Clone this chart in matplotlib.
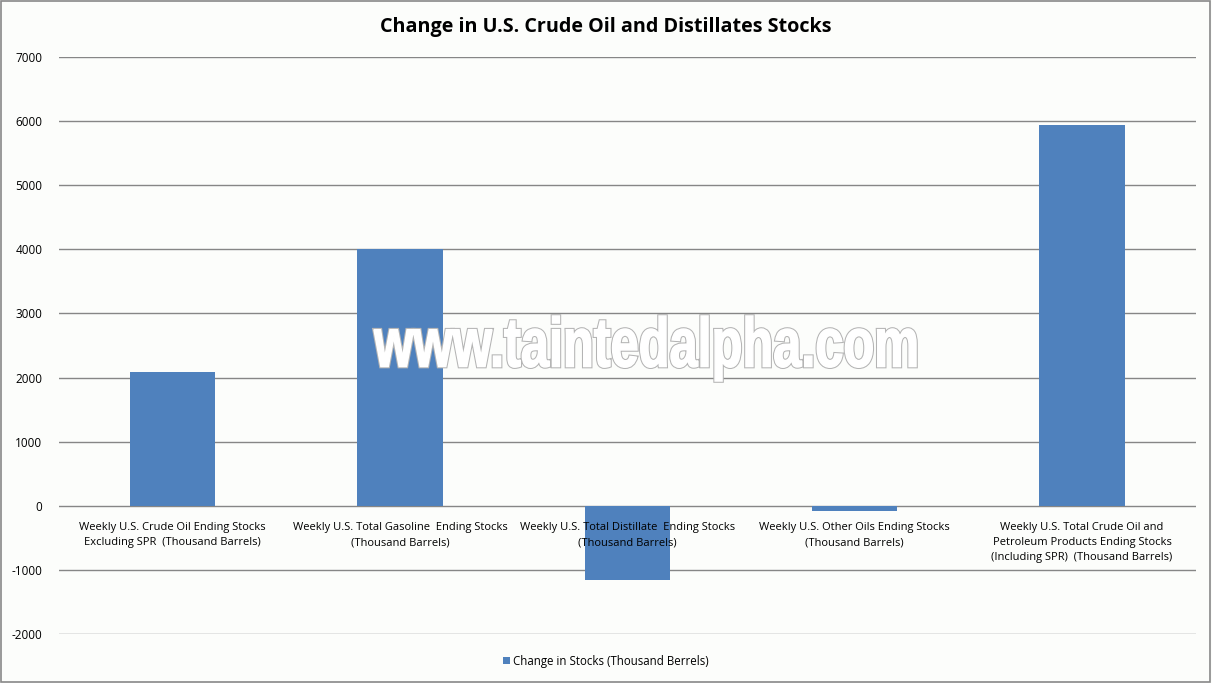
import matplotlib.pyplot as plt
from matplotlib.textpath import TextPath
from matplotlib.patches import PathPatch
from matplotlib.font_manager import FontProperties
from matplotlib.transforms import Affine2D

categories = [
    'Weekly U.S. Crude Oil Ending Stocks\nExcluding SPR  (Thousand Barrels)',
    'Weekly U.S. Total Gasoline  Ending Stocks\n(Thousand Barrels)',
    'Weekly U.S. Total Distillate  Ending Stocks\n(Thousand Barrels)',
    'Weekly U.S. Other Oils Ending Stocks\n(Thousand Barrels)',
    'Weekly U.S. Total Crude Oil and\nPetroleum Products Ending Stocks\n(Including SPR)  (Thousand Barrels)',
]
changes = [2090, 4010, -1155, -78, 5944]
series_name = 'Change in Stocks (Thousand Berrels)'
yticks = [-2000, -1000, 0, 1000, 2000, 3000, 4000, 5000, 6000, 7000]

plt.rcParams['font.family'] = ['Open Sans', 'DejaVu Sans']
bg = '#fcfdfb'
blue = '#4f81bd'

fig = plt.figure(figsize=(12.12, 6.83), dpi=100, facecolor=bg)
fig.patches.append(plt.Rectangle((0.001, 0.001), 0.997, 0.997, transform=fig.transFigure,
                                 fill=False, edgecolor='#888888', linewidth=1.2))
ax = fig.add_axes([0.0487, 0.0717, 0.9378, 0.8448])
ax.set_facecolor(bg)

x = range(len(categories))
ax.bar(x, changes, width=0.375, color=blue, zorder=2, label=series_name)

ax.set_xlim(-0.5, len(categories) - 0.5)
ax.set_ylim(-2000, 7000)
ax.set_yticks(yticks)
ax.set_yticklabels([str(v) for v in yticks], fontsize=8.5)
ax.yaxis.grid(True, color='#868686', linewidth=1)
ax.set_axisbelow(True)
ax.tick_params(axis='y', length=0, pad=12)
ax.set_xticks([])
for s in ax.spines.values():
    s.set_visible(False)

for i, lab in enumerate(categories):
    ax.annotate(lab, (i, 0), xytext=(0, -12), textcoords='offset points',
                ha='center', va='top', fontsize=8, linespacing=1.45, zorder=3)

fig.text(0.5, 1 - 27 / 683, 'Change in U.S. Crude Oil and Distillates Stocks',
         ha='center', va='center', fontsize=14.2, fontweight='bold')

# watermark: narrow bold letters, white with a thin grey outline
tp = TextPath((0, 0), 'www.taintedalpha.com',
              prop=FontProperties(family='Liberation Sans', weight='bold'), size=1)
ext = tp.get_extents()
x0, x1, y0, y1 = 374, 916, 683 - 381, 683 - 316
tr = (Affine2D().translate(-ext.x0, -ext.y0)
      .scale((x1 - x0) / ext.width, (y1 - y0) / ext.height)
      .translate(x0, y0))
wpath = tr.transform_path(tp)
fig.patches.append(PathPatch(wpath, facecolor='#b4b4b4', edgecolor='#b4b4b4',
                             linewidth=2.6, transform=None, zorder=5))
fig.patches.append(PathPatch(wpath, facecolor='white', edgecolor='white',
                             linewidth=1.1, transform=None, zorder=6))

fig.legend(*ax.get_legend_handles_labels(), loc='center',
           bbox_to_anchor=(0.5, 1 - 661 / 683), frameon=False,
           fontsize=8.3, handlelength=0.6, handleheight=0.6, handletextpad=0.3)

fig.savefig('out.png', facecolor=bg)
